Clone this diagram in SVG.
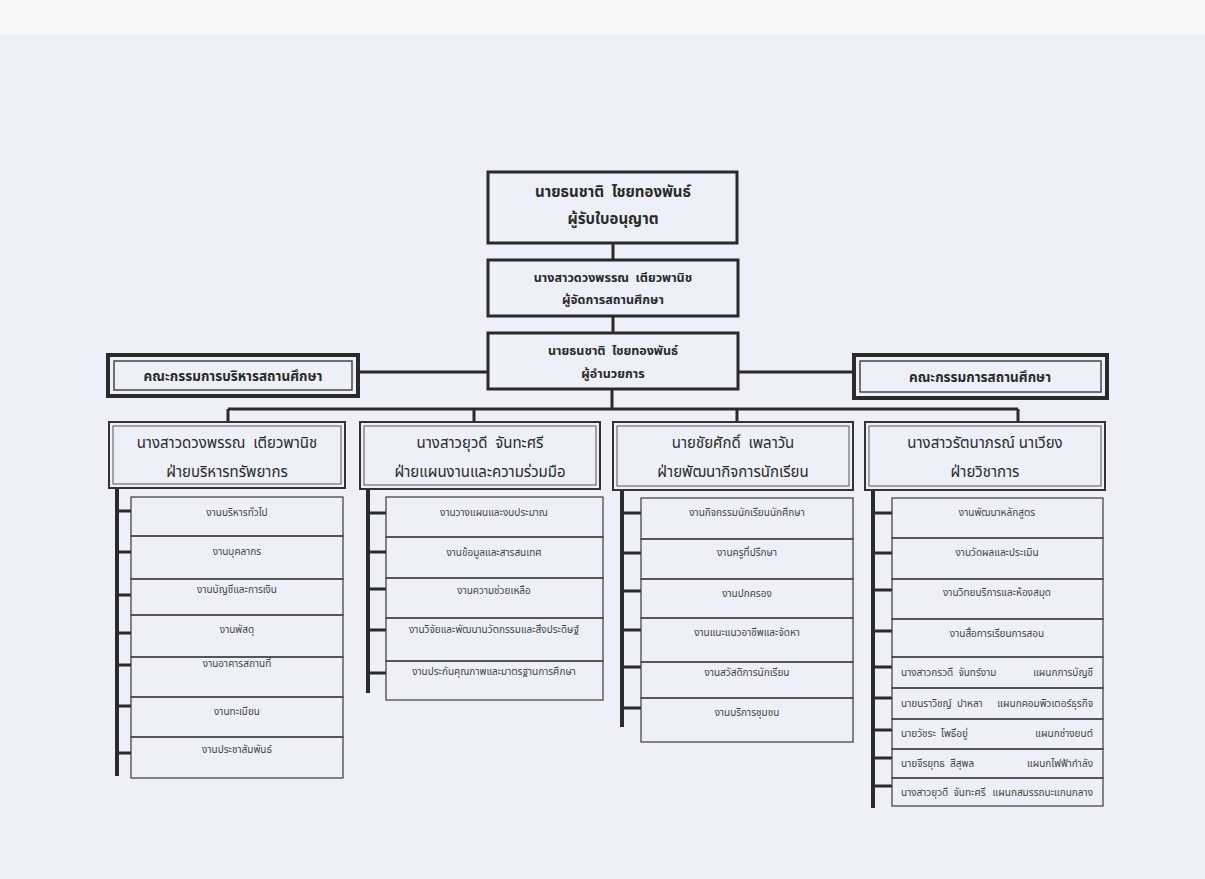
<svg xmlns="http://www.w3.org/2000/svg" width="1205" height="879" viewBox="0 0 1205 879">
<style>
text{font-family:"Noto Sans Thai","Noto Sans","DejaVu Sans","Liberation Sans",sans-serif;fill:#2a2a2a;text-anchor:middle;white-space:pre}
.t1{font-size:15px;font-weight:bold}
.t2{font-size:12.5px;font-weight:bold}
.hd{font-size:15px}
.cm{font-size:13.5px;font-weight:bold}
.it{font-size:10px;fill:#444}
.l{text-anchor:start}
.r{text-anchor:end}
.box{fill:none;stroke:#2a2a2a;stroke-width:3}
.cmo{fill:none;stroke:#2a2a2a;stroke-width:4}
.cmi{fill:none;stroke:#444;stroke-width:1.5}
.hdo{fill:none;stroke:#333;stroke-width:2}
.hdi{fill:none;stroke:#555;stroke-width:1}
.itb{fill:none;stroke:#3a3a3a;stroke-width:1.2}
.ln{fill:none;stroke:#2a2a2a;stroke-width:3}
.bar{fill:none;stroke:#2a2a2a;stroke-width:4}
</style>
<rect x="0" y="0" width="1205" height="879" fill="#edf0f8"/>
<rect x="0" y="0" width="1205" height="34" fill="#f6f7f9"/>

<g id="connectors">
<path class="ln" d="M613 243V260M613 316V333M612 389V409M228 409H1018M228 409V422M474 409V422M737 409V422M1018 409V422M358 372H488M738 372H854"/>
<path class="bar" d="M117 488V776M368 489V693M622 490V727M873 490V808"/>
<path class="ln" d="M117 511H131M117 552H131M117 595H131M117 633H131M117 665H131M117 706H131M117 753H131"/>
<path class="ln" d="M368 513H386M368 552H386M368 589H386M368 630H386M368 673H386"/>
<path class="ln" d="M622 513H641M622 553H641M622 591H641M622 630H641M622 667H641M622 708H641"/>
<path class="ln" d="M873 513H892M873 553H892M873 590H892M873 631H892M873 667H892M873 698H892M873 730H892M873 758H892M873 786H892"/>
</g>

<g id="licensee">
<rect class="box" x="488" y="172" width="249" height="71"/>
<text class="t1" x="613" y="197">นายธนชาติ  ไชยทองพันธ์</text>
<text class="t1" x="613" y="224">ผู้รับใบอนุญาต</text>
</g>
<g id="manager">
<rect class="box" x="488" y="260" width="250" height="56"/>
<text class="t2" x="613" y="282">นางสาวดวงพรรณ  เตียวพานิช</text>
<text class="t2" x="613" y="304">ผู้จัดการสถานศึกษา</text>
</g>
<g id="director">
<rect class="box" x="488" y="333" width="250" height="56"/>
<text class="t2" x="613" y="355">นายธนชาติ  ไชยทองพันธ์</text>
<text class="t2" x="613" y="378">ผู้อำนวยการ</text>
</g>

<g id="admin-committee">
<rect class="cmo" x="108" y="355" width="250" height="41"/>
<rect class="cmi" x="114" y="361" width="238" height="29"/>
<text class="cm" x="233" y="381">คณะกรรมการบริหารสถานศึกษา</text>
</g>
<g id="school-committee">
<rect class="cmo" x="854" y="355" width="253" height="43"/>
<rect class="cmi" x="860" y="361" width="241" height="31"/>
<text class="cm" x="980" y="382">คณะกรรมการสถานศึกษา</text>
</g>

<g id="dept-resources">
<rect class="hdo" x="109" y="422" width="236" height="66"/>
<rect class="hdi" x="113" y="426" width="228" height="58"/>
<text class="hd" x="227" y="448">นางสาวดวงพรรณ  เตียวพานิช</text>
<text class="hd" x="227" y="477">ฝ่ายบริหารทรัพยากร</text>
</g>
<g id="dept-planning">
<rect class="hdo" x="360" y="422" width="240" height="67"/>
<rect class="hdi" x="364" y="426" width="232" height="59"/>
<text class="hd" x="480" y="448">นางสาวยุวดี  จันทะศรี</text>
<text class="hd" x="480" y="477">ฝ่ายแผนงานและความร่วมมือ</text>
</g>
<g id="dept-student">
<rect class="hdo" x="613" y="422" width="240" height="68"/>
<rect class="hdi" x="617" y="426" width="232" height="60"/>
<text class="hd" x="733" y="448">นายชัยศักดิ์  เพลาวัน</text>
<text class="hd" x="733" y="477">ฝ่ายพัฒนากิจการนักเรียน</text>
</g>
<g id="dept-academic">
<rect class="hdo" x="865" y="422" width="240" height="68"/>
<rect class="hdi" x="869" y="426" width="232" height="60"/>
<text class="hd" x="985" y="448">นางสาวรัตนาภรณ์ นาเวียง</text>
<text class="hd" x="985" y="477">ฝ่ายวิชาการ</text>
</g>

<g id="tasks-resources">
<rect class="itb" x="131" y="497" width="212" height="39"/>
<rect class="itb" x="131" y="536" width="212" height="43"/>
<rect class="itb" x="131" y="579" width="212" height="36"/>
<rect class="itb" x="131" y="615" width="212" height="42"/>
<rect class="itb" x="131" y="657" width="212" height="40"/>
<rect class="itb" x="131" y="697" width="212" height="40"/>
<rect class="itb" x="131" y="737" width="212" height="41"/>
<text class="it" x="237" y="516">งานบริหารทั่วไป</text>
<text class="it" x="237" y="555">งานบุคลากร</text>
<text class="it" x="237" y="593">งานบัญชีและการเงิน</text>
<text class="it" x="237" y="633">งานพัสดุ</text>
<text class="it" x="237" y="667">งานอาคารสถานที่</text>
<text class="it" x="237" y="715">งานทะเบียน</text>
<text class="it" x="237" y="753">งานประชาสัมพันธ์</text>
</g>

<g id="tasks-planning">
<rect class="itb" x="386" y="497" width="217" height="40"/>
<rect class="itb" x="386" y="537" width="217" height="41"/>
<rect class="itb" x="386" y="578" width="217" height="40"/>
<rect class="itb" x="386" y="618" width="217" height="43"/>
<rect class="itb" x="386" y="661" width="217" height="39"/>
<text class="it" x="494" y="516">งานวางแผนและงบประมาณ</text>
<text class="it" x="494" y="556">งานข้อมูลและสารสนเทศ</text>
<text class="it" x="494" y="594">งานความช่วยเหลือ</text>
<text class="it" x="494" y="633">งานวิจัยและพัฒนานวัตกรรมและสิ่งประดิษฐ์</text>
<text class="it" x="494" y="675">งานประกันคุณภาพและมาตรฐานการศึกษา</text>
</g>

<g id="tasks-student">
<rect class="itb" x="641" y="498" width="212" height="41"/>
<rect class="itb" x="641" y="539" width="212" height="40"/>
<rect class="itb" x="641" y="579" width="212" height="39"/>
<rect class="itb" x="641" y="618" width="212" height="44"/>
<rect class="itb" x="641" y="662" width="212" height="36"/>
<rect class="itb" x="641" y="698" width="212" height="44"/>
<text class="it" x="747" y="516">งานกิจกรรมนักเรียนนักศึกษา</text>
<text class="it" x="747" y="556">งานครูที่ปรึกษา</text>
<text class="it" x="747" y="597">งานปกครอง</text>
<text class="it" x="747" y="636">งานแนะแนวอาชีพและจัดหา</text>
<text class="it" x="747" y="676">งานสวัสดิการนักเรียน</text>
<text class="it" x="747" y="716">งานบริการชุมชน</text>
</g>

<g id="tasks-academic">
<rect class="itb" x="892" y="498" width="211" height="40"/>
<rect class="itb" x="892" y="538" width="211" height="41"/>
<rect class="itb" x="892" y="579" width="211" height="40"/>
<rect class="itb" x="892" y="619" width="211" height="38"/>
<rect class="itb" x="892" y="657" width="211" height="31"/>
<rect class="itb" x="892" y="688" width="211" height="31"/>
<rect class="itb" x="892" y="719" width="211" height="30"/>
<rect class="itb" x="892" y="749" width="211" height="29"/>
<rect class="itb" x="892" y="778" width="211" height="28"/>
<text class="it" x="997" y="516">งานพัฒนาหลักสูตร</text>
<text class="it" x="997" y="556">งานวัดผลและประเมิน</text>
<text class="it" x="997" y="596">งานวิทยบริการและห้องสมุด</text>
<text class="it" x="997" y="637">งานสื่อการเรียนการสอน</text>
<text class="it l" x="901" y="676">นางสาวกรวดี  จันทร์งาม</text>
<text class="it r" x="1093" y="676">แผนกการบัญชี</text>
<text class="it l" x="901" y="707">นายนราวิชญ์  ปาหลา</text>
<text class="it r" x="1093" y="707">แผนกคอมพิวเตอร์ธุรกิจ</text>
<text class="it l" x="901" y="737">นายวัชระ  โพธิ์อยู่</text>
<text class="it r" x="1093" y="737">แผนกช่างยนต์</text>
<text class="it l" x="901" y="767">นายจีรยุทธ  สีสุพล</text>
<text class="it r" x="1093" y="767">แผนกไฟฟ้ากำลัง</text>
<text class="it l" x="901" y="796">นางสาวยุวดี  จันทะศรี</text>
<text class="it r" x="1093" y="796">แผนกสมรรถนะแกนกลาง</text>
</g>
</svg>
